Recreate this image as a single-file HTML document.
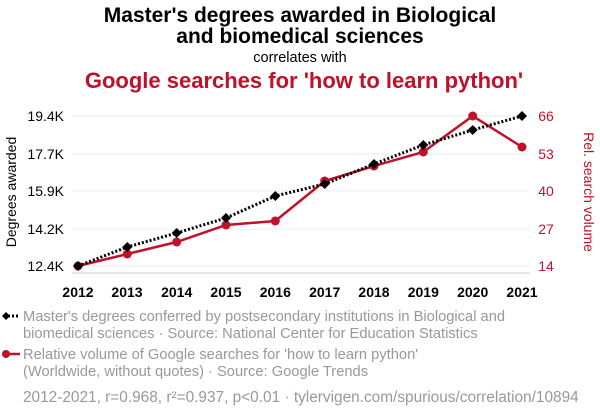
<!DOCTYPE html>
<html><head><meta charset="utf-8"><style>
body{margin:0;background:#fff;width:600px;height:414px;overflow:hidden;font-family:"Liberation Sans",sans-serif}
</style></head><body>
<svg width="600" height="414" xmlns="http://www.w3.org/2000/svg" font-family="Liberation Sans, sans-serif">
<text x="300" y="22" text-anchor="middle" font-size="21" font-weight="bold" fill="#000">Master's degrees awarded in Biological</text>
<text x="300" y="43" text-anchor="middle" font-size="21" font-weight="bold" fill="#000">and biomedical sciences</text>
<text x="300" y="62" text-anchor="middle" font-size="14.5" fill="#000">correlates with</text>
<text x="304" y="88" text-anchor="middle" font-size="22" font-weight="bold" fill="#c0102a">Google searches for 'how to learn python'</text>
<g stroke="#eee" stroke-width="1">
<line x1="72" x2="530" y1="116" y2="116"/><line x1="72" x2="530" y1="154" y2="154"/><line x1="72" x2="530" y1="191" y2="191"/><line x1="72" x2="530" y1="229" y2="229"/><line x1="72" x2="530" y1="266" y2="266"/>
</g>
<line x1="72" x2="530" y1="273" y2="273" stroke="#ccc"/>
<g font-size="14" fill="#000" text-anchor="end">
<text x="64" y="121">19.4K</text><text x="64" y="159">17.7K</text><text x="64" y="196">15.9K</text><text x="64" y="234">14.2K</text><text x="64" y="271">12.4K</text>
</g>
<g font-size="14" fill="#c0102a" text-anchor="middle">
<text x="546" y="121">66</text><text x="546" y="159">53</text><text x="546" y="196">40</text><text x="546" y="234">27</text><text x="546" y="271">14</text>
</g>
<g font-size="14" font-weight="bold" text-anchor="middle" fill="#000">
<text x="78" y="297">2012</text><text x="127" y="297">2013</text><text x="176.7" y="297">2014</text><text x="226" y="297">2015</text><text x="275.3" y="297">2016</text><text x="324.7" y="297">2017</text><text x="374" y="297">2018</text><text x="423.3" y="297">2019</text><text x="472.7" y="297">2020</text><text x="522" y="297">2021</text>
</g>
<text transform="translate(16,192) rotate(-90)" text-anchor="middle" font-size="14" fill="#000">Degrees awarded</text>
<text transform="translate(584,192) rotate(90)" text-anchor="middle" font-size="14" fill="#c0102a">Rel. search volume</text>
<polyline fill="none" stroke="#c0102a" stroke-width="2.5" points="78,266 127.3,254 176.7,242 226,225 275.3,221 324.7,181 374,166 423.3,152 472.7,116 522,147"/>
<g fill="#c0102a">
<circle cx="78" cy="266" r="4.5"/><circle cx="127.3" cy="254" r="4.5"/><circle cx="176.7" cy="242" r="4.5"/><circle cx="226" cy="225" r="4.5"/><circle cx="275.3" cy="221" r="4.5"/><circle cx="324.7" cy="181" r="4.5"/><circle cx="374" cy="166" r="4.5"/><circle cx="423.3" cy="152" r="4.5"/><circle cx="472.7" cy="116" r="4.5"/><circle cx="522" cy="147" r="4.5"/>
</g>
<polyline fill="none" stroke="#000" stroke-width="3" stroke-dasharray="2,2" points="78,266 127.3,247 176.7,233 226,218 275.3,196 324.7,184 374,164 423.3,145 472.7,130 522,116"/>
<g fill="#000">
<path d="M78 261l5 5-5 5-5-5z"/><path d="M127.3 242l5 5-5 5-5-5z"/><path d="M176.7 228l5 5-5 5-5-5z"/><path d="M226 213l5 5-5 5-5-5z"/><path d="M275.3 191l5 5-5 5-5-5z"/><path d="M324.7 179l5 5-5 5-5-5z"/><path d="M374 159l5 5-5 5-5-5z"/><path d="M423.3 140l5 5-5 5-5-5z"/><path d="M472.7 125l5 5-5 5-5-5z"/><path d="M522 111l5 5-5 5-5-5z"/>
</g>
<line x1="4" x2="20" y1="316" y2="316" stroke="#000" stroke-width="3" stroke-dasharray="2,2"/>
<path d="M6 312l4 4-4 4-4-4z" fill="#000"/>
<g font-size="14.7" fill="#999">
<text x="23" y="321">Master's degrees conferred by postsecondary institutions in Biological and</text>
<text x="23" y="338">biomedical sciences · Source: National Center for Education Statistics</text>
<text x="23" y="359">Relative volume of Google searches for 'how to learn python'</text>
<text x="23" y="376">(Worldwide, without quotes) · Source: Google Trends</text>
</g>
<text x="23" y="402" font-size="15.4" fill="#999">2012-2021, r=0.968, r²=0.937, p&lt;0.01 · tylervigen.com/spurious/correlation/10894</text>
<line x1="4" x2="20" y1="354" y2="354" stroke="#c0102a" stroke-width="2.5"/>
<circle cx="6" cy="354" r="4" fill="#c0102a"/>
</svg>
</body></html>
